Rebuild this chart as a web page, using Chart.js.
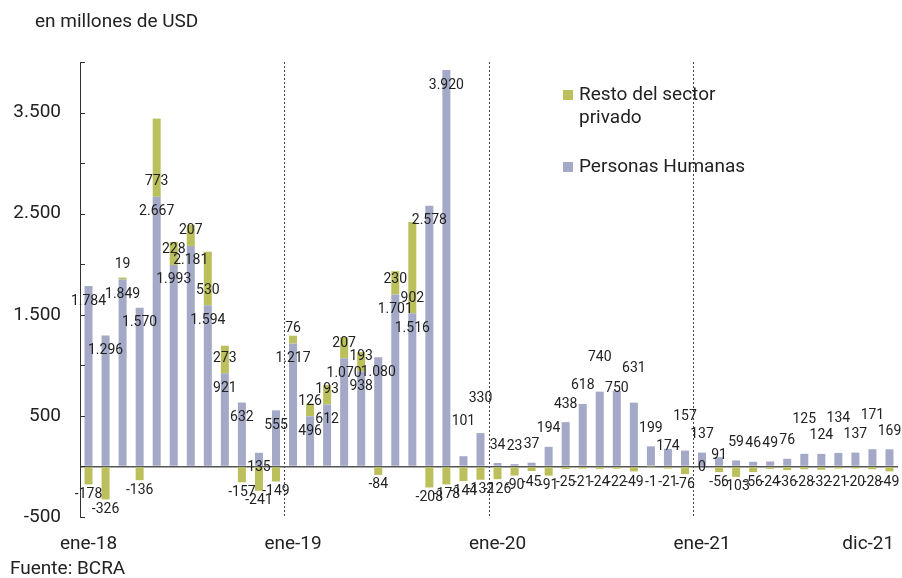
<!DOCTYPE html>
<html lang="es">
<head>
<meta charset="utf-8">
<title>Compra de dólares</title>
<script src="https://cdn.jsdelivr.net/npm/chart.js@4.4.1/dist/chart.umd.min.js"></script>
<style>
  html, body { margin: 0; padding: 0; background: #fff; }
  #grafico { display: block; }
</style>
</head>
<body>
<canvas id="grafico" width="902" height="578"></canvas>
<script>
// datos (en millones de USD)
const mesesCortos = ['ene', 'feb', 'mar', 'abr', 'may', 'jun', 'jul', 'ago', 'sep', 'oct', 'nov', 'dic'];
const anios = ['18', '19', '20', '21'];
const categorias = anios.flatMap(a => mesesCortos.map(m => m + '-' + a));

const personasHumanas = [
    1784, 1296, 1849, 1570, 2667, 1993, 2181, 1594, 921, 632, 135, 555,
    1217, 496, 612, 1070, 938, 1080, 1701, 1516, 2578, 3920, 101, 330,
    34, 23, 37, 194, 438, 618, 740, 750, 631, 199, 174, 157,
    137, 91, 59, 46, 49, 76, 125, 124, 134, 137, 171, 169
];
const restoPrivado = [
    -178, -326, 19, -136, 773, 228, 207, 530, 273, -157, -241, -149,
    76, 126, 193, 207, 193, -84, 230, 902, -208, -178, -144, -132,
    -126, -90, -45, -91, -25, -21, -24, -22, -49, -1, -21, -76,
    0, -56, -103, -56, -24, -36, -28, -32, -21, -20, -28, -49
];

const etiquetasX = ['ene-18', 'ene-19', 'ene-20', 'ene-21', 'dic-21'];
const etiquetasY = [-500, 500, 1500, 2500, 3500];

const colorPersonas = '#a4a9c7';
const colorResto = '#bcc05c';
const fuente = 'Roboto, "Noto Sans", sans-serif';

function formato(v) {
    return v.toString().replace(/\B(?=(\d{3})+(?!\d))/g, '.');
}

// etiquetas de valores sobre las barras
const etiquetasBarras = {
    id: 'etiquetasBarras',
    afterDatasetsDraw(chart) {
        const ctx = chart.ctx;
        ctx.save();
        ctx.font = '14px ' + fuente;
        ctx.fillStyle = '#222';
        ctx.textAlign = 'center';
        ctx.textBaseline = 'middle';

        // personas humanas: dentro del extremo en 2018-19, arriba desde 2020
        let previa = null;
        chart.getDatasetMeta(0).data.forEach((bar, j) => {
            const v = personasHumanas[j];
            const txt = formato(v);
            const w = ctx.measureText(txt).width;
            let opciones;
            if (j < 24) {
                opciones = v >= 400 ? [bar.y + 15] : [bar.y - 35, bar.y + 15];
            } else {
                opciones = [bar.y - 18, bar.y - 34, bar.y - 2];
            }
            const choca = yy => previa && Math.abs(bar.x - previa.x) < (w + previa.w) / 2 + 1 &&
                Math.abs(yy - previa.y) < 15;
            const y = opciones.find(o => !choca(o)) ?? opciones[0];
            ctx.fillText(txt, bar.x, y);
            previa = { x: bar.x, y: y, w: w };
        });

        // resto del sector privado
        chart.getDatasetMeta(1).data.forEach((bar, j) => {
            const v = restoPrivado[j];
            const y = v > 0 ? bar.base - 15 : Math.max(bar.base + 15, bar.y + 10);
            ctx.fillText(formato(v), bar.x, y);
        });
        ctx.restore();
    }
};

// marcas del eje y, leyenda, título y fuente
const decoracion = {
    id: 'decoracion',
    afterDraw(chart) {
        const ctx = chart.ctx;
        const y = chart.scales.y;
        const left = chart.chartArea.left;
        ctx.save();
        ctx.strokeStyle = '#333';
        ctx.lineWidth = 1;
        for (let v = -500; v <= 4000; v += 500) {
            const py = Math.round(y.getPixelForValue(v)) + 0.5;
            ctx.beginPath();
            ctx.moveTo(left, py);
            ctx.lineTo(left + 5, py);
            ctx.stroke();
        }

        ctx.font = '19px ' + fuente;
        ctx.fillStyle = '#222';
        ctx.textAlign = 'left';
        ctx.textBaseline = 'middle';
        ctx.fillText('en millones de USD', 35, 22);
        ctx.fillText('Fuente: BCRA', 10, 569);

        ctx.fillStyle = colorResto;
        ctx.fillRect(563, 90, 10, 10);
        ctx.fillStyle = colorPersonas;
        ctx.fillRect(563, 162, 10, 10);
        ctx.fillStyle = '#222';
        ctx.fillText('Resto del sector', 579, 95);
        ctx.fillText('privado', 579, 118);
        ctx.fillText('Personas Humanas', 579, 167);
        ctx.restore();
    }
};

new Chart(document.getElementById('grafico'), {
    type: 'bar',
    data: {
        labels: categorias,
        datasets: [
            { label: 'Personas Humanas', data: personasHumanas, backgroundColor: colorPersonas },
            { label: 'Resto del sector privado', data: restoPrivado, backgroundColor: colorResto }
        ]
    },
    options: {
        responsive: false,
        animation: false,
        layout: { padding: { top: 62, right: 4, bottom: 0, left: 0 } },
        datasets: { bar: { barPercentage: 0.47, categoryPercentage: 1 } },
        plugins: {
            legend: { display: false },
            tooltip: { enabled: false }
        },
        scales: {
            x: {
                stacked: true,
                afterFit: s => { s.height = 61; s.paddingLeft = 0; s.paddingRight = 0; },
                grid: {
                    offset: true,
                    drawTicks: false,
                    color: c => (c.index > 0 && c.index % 12 === 0) ? '#444' : 'rgba(0,0,0,0)',
                    lineWidth: 1
                },
                border: { display: false, dash: [2, 2] },
                ticks: {
                    autoSkip: false,
                    maxRotation: 0,
                    padding: 16,
                    color: '#222',
                    font: { family: fuente, size: 19 },
                    callback: function (v, i) {
                        const lab = categorias[i];
                        if (!etiquetasX.includes(lab)) return '';
                        // la última etiqueta queda corrida hacia adentro
                        return i === categorias.length - 1 ? lab + '\u00a0'.repeat(9) : lab;
                    }
                }
            },
            y: {
                stacked: true,
                min: -500,
                max: 4000,
                afterFit: s => { s.width = 80; },
                grid: {
                    drawTicks: false,
                    color: c => c.tick.value === 0 ? '#555' : 'rgba(0,0,0,0)',
                    lineWidth: 1.5
                },
                border: { display: true, color: '#333', width: 1 },
                ticks: {
                    stepSize: 500,
                    padding: 19,
                    color: '#222',
                    font: { family: fuente, size: 19 },
                    callback: v => etiquetasY.includes(v) ? formato(v) : ''
                }
            }
        }
    },
    plugins: [etiquetasBarras, decoracion]
});
</script>
</body>
</html>
